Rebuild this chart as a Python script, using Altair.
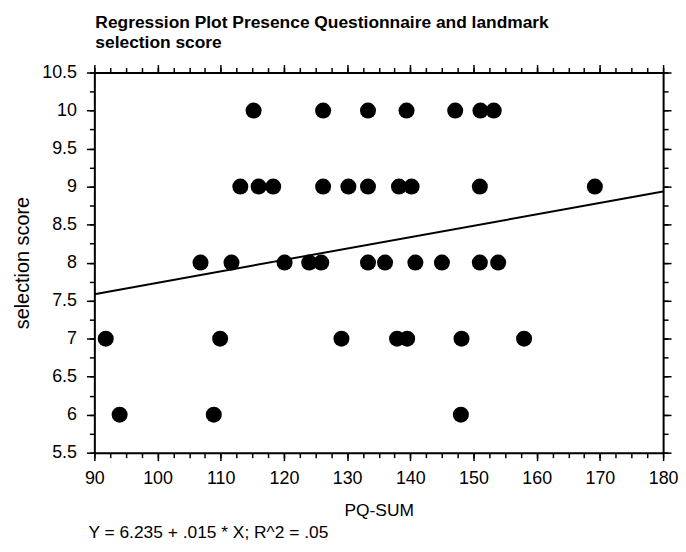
import altair as alt
import pandas as pd

# data
pq_sum = [115.2, 126.2, 133.3, 139.4, 147.1, 151.1, 153.2,
          113.1, 116.0, 118.3, 126.2, 130.2, 133.3, 138.2, 140.2, 151.0, 169.2,
          106.8, 111.7, 120.1, 124.0, 125.9, 133.3, 136.0, 140.8, 145.0, 151.0, 153.9,
          91.8, 109.9, 129.1, 137.9, 139.5, 148.1, 158.0,
          94.0, 108.9, 148.0]
selection = [10] * 7 + [9] * 10 + [8] * 11 + [7] * 7 + [6] * 3

intercept = 6.235
slope = 0.015
line_x = [90, 180]

x_major = [90, 100, 110, 120, 130, 140, 150, 160, 170, 180]
x_minor = [90 + 2.5 * i for i in range(37)]
y_major = [5.5, 6, 6.5, 7, 7.5, 8, 8.5, 9, 9.5, 10, 10.5]
y_minor = [5.5 + 0.25 * i for i in range(21)]

pts = pd.DataFrame({"PQ-SUM": pq_sum, "selection score": selection})
reg = pd.DataFrame({"PQ-SUM": line_x,
                    "selection score": [intercept + slope * v for v in line_x]})

FONT = "Liberation Sans"
W, H = 573, 383
xs = alt.Scale(domain=[90, 180], nice=False, zero=False)
ys = alt.Scale(domain=[5.5, 10.5], nice=False, zero=False)

common_axis = dict(grid=False, domainColor="black", domainWidth=2, tickColor="black",
                   tickWidth=1.5, labelFont=FONT, labelFontSize=18, labelColor="black",
                   titleFont=FONT, titleColor="black", titleFontWeight="normal")

points = alt.Chart(pts).mark_circle(size=260, color="black", opacity=1).encode(
    x=alt.X("PQ-SUM:Q", scale=xs,
            axis=alt.Axis(orient="bottom", values=x_major, tickSize=8, labelPadding=9,
                          title="PQ-SUM", titleFontSize=17.5, titlePadding=14,
                          labelFlush=False, **common_axis)),
    y=alt.Y("selection score:Q", scale=ys,
            axis=alt.Axis(orient="left", values=y_major, tickSize=8, labelPadding=10,
                          format="~g", title="selection score", titleFontSize=20,
                          titlePadding=9, labelFlush=False, **common_axis)),
)

line = alt.Chart(reg).mark_line(color="black", strokeWidth=2).encode(
    x=alt.X("PQ-SUM:Q", scale=xs,
            axis=alt.Axis(orient="top", values=x_major, tickSize=8, labels=False,
                          title=None, **common_axis)),
    y=alt.Y("selection score:Q", scale=ys,
            axis=alt.Axis(orient="right", values=y_major, tickSize=8, labels=False,
                          title=None, **common_axis)),
)

minor_bl = alt.Chart(reg).mark_line(opacity=0).encode(
    x=alt.X("PQ-SUM:Q", scale=xs,
            axis=alt.Axis(orient="bottom", values=x_minor, tickSize=5, labels=False,
                          domain=False, title=None, **common_axis)),
    y=alt.Y("selection score:Q", scale=ys,
            axis=alt.Axis(orient="left", values=y_minor, tickSize=5, labels=False,
                          domain=False, title=None, **common_axis)),
)

minor_tr = alt.Chart(reg).mark_line(opacity=0).encode(
    x=alt.X("PQ-SUM:Q", scale=xs,
            axis=alt.Axis(orient="top", values=x_minor, tickSize=5, labels=False,
                          domain=False, title=None, **common_axis)),
    y=alt.Y("selection score:Q", scale=ys,
            axis=alt.Axis(orient="right", values=y_minor, tickSize=5, labels=False,
                          domain=False, title=None, **common_axis)),
)

note = alt.Chart(pd.DataFrame({"t": ["Y = 6.235 + .015 * X; R^2 = .05"]})).mark_text(
    font=FONT, fontSize=17.5, color="black", align="left", baseline="alphabetic"
).encode(text="t:N", x=alt.value(-6), y=alt.value(H + 86))

chart = alt.layer(points, line, minor_bl, minor_tr, note).resolve_axis(
    x="independent", y="independent"
).properties(
    width=W, height=H,
    autosize="none",
    padding={"left": 87, "top": 63, "right": 15, "bottom": 90},
    title=alt.TitleParams(
        text=["Regression Plot Presence Questionnaire and landmark", "selection score"],
        anchor="start", frame="group", font=FONT, fontSize=17.5, fontWeight="bold",
        color="black", lineHeight=20, offset=12, dx=1,
    ),
).configure_view(stroke=None).configure(background="white")

chart.save("out.html", embed_options={"renderer": "svg", "actions": False})
